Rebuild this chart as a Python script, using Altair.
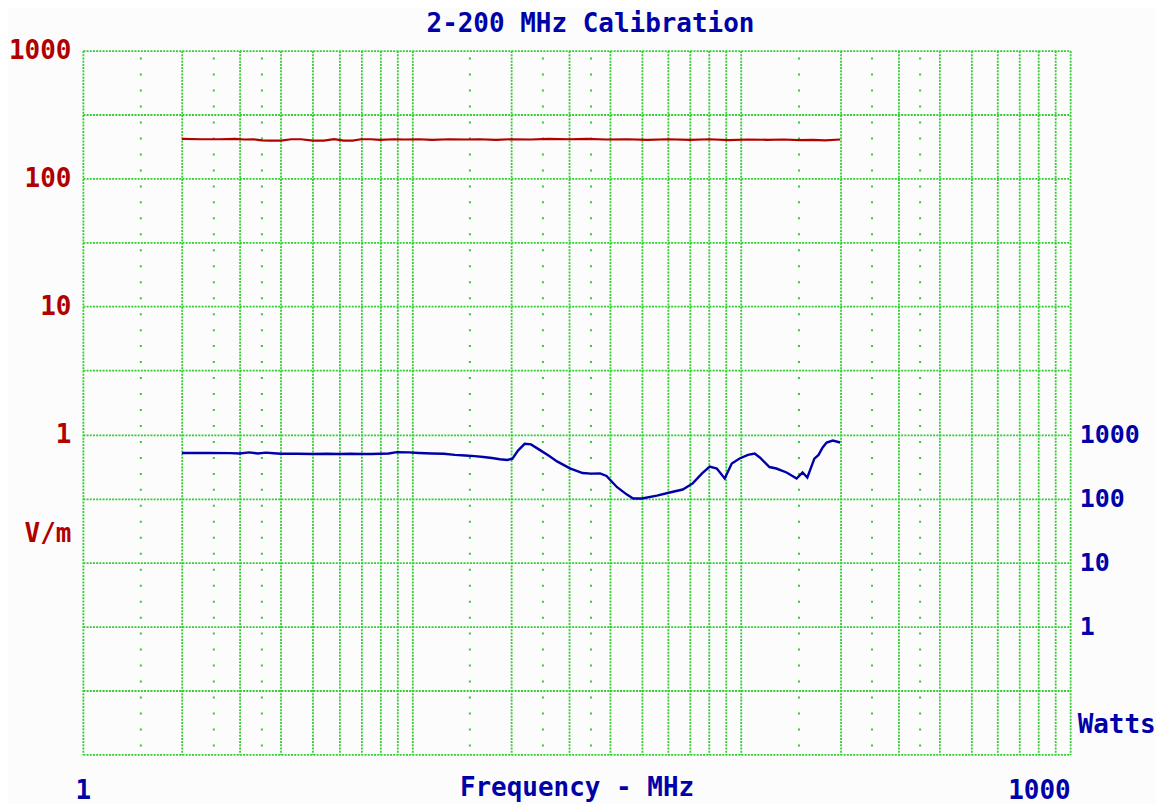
import altair as alt
import pandas as pd

# ---- data ----
red_freq = [2.0, 2.3, 2.6, 2.9, 3.1, 3.3, 3.5, 3.7, 4.0, 4.3, 4.6, 5.0, 5.4, 5.8, 6.2, 6.6,
            7.0, 7.5, 8.0, 8.8, 9.5, 10.5, 11.5, 13, 14.5, 16, 18, 20, 23, 26, 30, 34, 39,
            45, 52, 60, 70, 80, 92, 105, 120, 135, 150, 165, 180, 200]
red_vm = [204, 203, 203, 204, 202, 203, 199, 198, 198, 203, 203, 198, 198, 203, 198, 198,
          203, 203, 201, 203, 202, 203, 201, 203, 202, 203, 201, 203, 202, 204, 203, 204, 202,
          203, 201, 203, 201, 203, 200, 202, 201, 202, 200, 201, 199, 202]

blue_freq = [2.0, 2.4, 2.8, 3.0, 3.2, 3.4, 3.6, 3.8, 4.0, 4.5, 5.0, 5.5, 6.0, 6.5, 7.0, 7.5,
             8.0, 8.5, 9.0, 9.8, 10.5, 11.5, 12.5, 13.5, 14.5, 15.5, 16.5, 17.5, 18.5, 19.5,
             20.2, 21.0, 22.0, 23.0, 24.5, 26.0, 27.6, 30.2, 33.0, 35.0, 37.3, 39.0, 42.0,
             45.0, 47.0, 50.0, 55.5, 60.7, 66.5, 71.3, 76.0, 80.3, 84.4, 89.2, 93.7, 99.0,
             105, 110, 114, 122, 128, 137.5, 147.5, 153.8, 159, 167, 172, 177, 182, 190, 200]
blue_watts = [515, 515, 512, 505, 525, 505, 520, 510, 500, 500, 495, 500, 495, 500, 495, 495,
              500, 505, 530, 525, 515, 505, 500, 480, 470, 460, 445, 430, 410, 400,
              420, 560, 715, 700, 570, 470, 380, 295, 250, 245, 246, 225, 150,
              115, 100, 100, 111, 124, 138, 172, 245, 316, 294, 205, 352, 422,
              480, 505, 437, 310, 294, 255, 205, 255, 213, 420, 480, 627, 750, 806, 750]

x_grid = [1, 2, 3, 4, 5, 6, 7, 8, 9, 10, 20, 30, 40, 50, 60, 70, 80, 90, 100,
          200, 300, 400, 500, 600, 700, 800, 900, 1000]
x_minor = [1.5, 2.5, 3.5, 15, 25, 35, 150, 250, 350]
y_grid_vm = [1000, 316.2278, 100, 31.62278, 10, 3.162278, 1, 0.3162278, 0.1,
             0.03162278, 0.01, 0.003162278]
watts_ticks = [1, 10, 100, 1000]

GREEN = "#33cc33"
RED = "#b00000"
BLUE = "#0000a8"
FONT = "DejaVu Sans Mono"
DASH = [2, 1.2]

red_df = pd.DataFrame({"f": red_freq, "vm": red_vm})
blue_df = pd.DataFrame({"f": blue_freq, "w": blue_watts})
minor_df = pd.DataFrame({"f": x_minor})

xscale = alt.Scale(type="log", domain=[1, 1000], nice=False)
x_axis = alt.Axis(
    values=x_grid, grid=True, gridColor=GREEN, gridDash=DASH, gridWidth=1.8, gridOpacity=1,
    ticks=False, domain=False, labelOverlap=False, labelFlush=False, labelBound=False,
    labelExpr="(datum.value == 1 || datum.value == 1000) ? format(datum.value, 'd') : ''",
    labelAlign={"expr": "datum.value == 1 ? 'center' : 'right'"},
    labelBaseline="middle", labelPadding=36,
    labelColor=BLUE, labelFont=FONT, labelFontSize=26, labelFontWeight="bold",
    title="Frequency - MHz", titleColor=BLUE, titleFont=FONT, titleFontSize=26,
    titleFontWeight="bold", titleBaseline="middle", titleY=33,
)
x_enc = alt.X("f:Q", scale=xscale, axis=x_axis)

minor = alt.Chart(minor_df).mark_rule(
    color=GREEN, strokeWidth=2, strokeDash=[2, 14], strokeDashOffset=9
).encode(x=x_enc)

red = alt.Chart(red_df).mark_line(color=RED, strokeWidth=2.2).encode(
    x=x_enc,
    y=alt.Y("vm:Q",
            scale=alt.Scale(type="log", domain=[0.003162278, 1000], nice=False),
            axis=alt.Axis(
                values=y_grid_vm, grid=True, gridColor=GREEN, gridDash=DASH,
                gridWidth=1.8, gridOpacity=1, ticks=False, domain=False,
                labelOverlap=False, labelBound=False,
                labelExpr="(datum.value == 1000 || datum.value == 100 || datum.value == 10 || datum.value == 1) ? format(datum.value, 'd') : ''",
                labelColor=RED, labelFont=FONT, labelFontSize=26, labelFontWeight="bold",
                labelPadding=12,
                title="V/m", titleAngle=0, titleAlign="right", titleBaseline="middle",
                titleX=-12, titleY=484, titleColor=RED, titleFont=FONT,
                titleFontSize=26, titleFontWeight="bold",
            )),
)

blue = alt.Chart(blue_df).mark_line(color=BLUE, strokeWidth=2.4).encode(
    x=x_enc,
    y=alt.Y("w:Q",
            scale=alt.Scale(type="log", domain=[0.01, 1e9], nice=False),
            axis=alt.Axis(
                orient="right", values=watts_ticks, grid=False, ticks=False, domain=False,
                labelOverlap=False, labelBound=False,
                labelExpr="format(datum.value, 'd')",
                labelColor=BLUE, labelFont=FONT, labelFontSize=25, labelFontWeight="bold",
                labelPadding=9, labelAlign="left",
                title="Watts", titleAngle=0, titleAlign="left", titleBaseline="middle",
                titleX=7, titleY=675, titleColor=BLUE, titleFont=FONT,
                titleFontSize=26, titleFontWeight="bold",
            )),
)

chart = alt.layer(minor, red, blue).resolve_scale(y="independent").properties(
    width=989, height=705,
    title=alt.TitleParams(text="2-200 MHz Calibration", font=FONT, fontSize=26,
                          fontWeight="bold", color=BLUE, anchor="middle", dx=14, offset=1),
    padding={"left": 0, "top": 2, "right": 0, "bottom": 0},
    background="#fcfcfc",
).configure_view(stroke=None)

chart.save("out.html", embed_options={"renderer": "svg", "actions": False})
